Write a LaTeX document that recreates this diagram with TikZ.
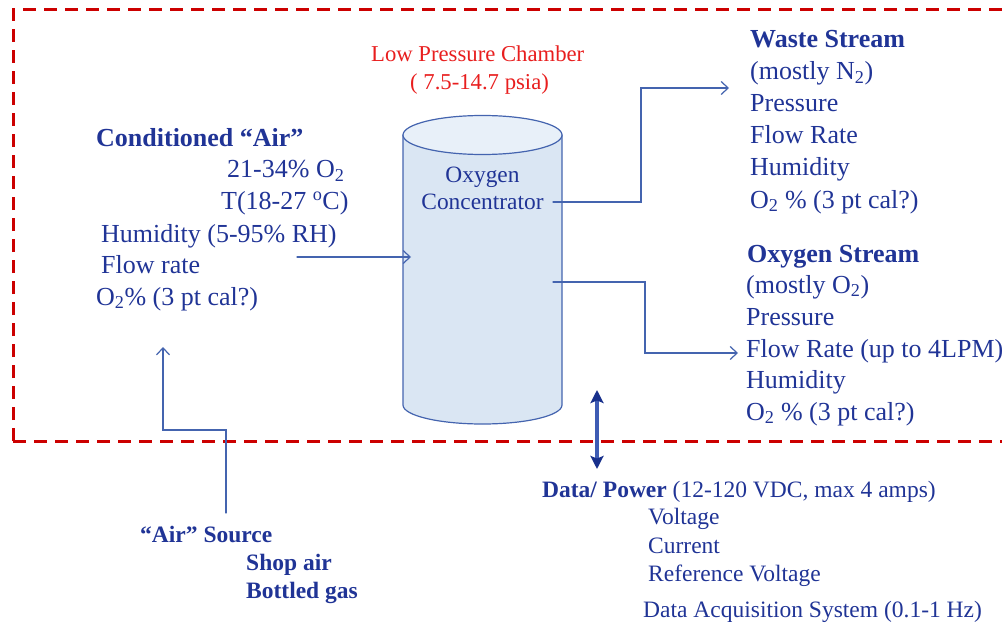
\documentclass[tikz,border=0pt]{standalone}
\usepackage{fontspec}
\setmainfont{Liberation Serif}
\usetikzlibrary{arrows.meta}

\definecolor{txtblue}{RGB}{32,52,150}
\definecolor{lnblue}{RGB}{68,100,175}
\definecolor{cylfill}{RGB}{218,230,243}
\definecolor{cyltop}{RGB}{232,240,249}
\definecolor{boxred}{RGB}{204,0,0}
\definecolor{lblred}{RGB}{232,30,30}
\definecolor{navyarr}{RGB}{24,48,140}
\definecolor{dpline}{RGB}{62,92,180}

\begin{document}
\begin{tikzpicture}[
  x=1pt, y=-1pt,
  line cap=round,
  flow/.style={-{Straight Barb[length=7pt,width=13pt]}, line width=1.2pt, draw=lnblue},
  dpow/.style={{Stealth[length=13pt,width=13pt,inset=2.5pt,color=navyarr]}-{Stealth[length=13pt,width=13pt,inset=2.5pt,color=navyarr]}, line width=3.2pt, draw=dpline},
  big/.style={font=\fontsize{26}{30}\selectfont, text=txtblue, anchor=base west, inner sep=0pt},
  bigb/.style={big, font=\fontsize{26}{30}\selectfont\bfseries},
  mid/.style={big, font=\fontsize{23.5}{28}\selectfont},
  midb/.style={big, font=\fontsize{23.5}{28}\selectfont\bfseries},
  redlbl/.style={big, font=\fontsize{22.7}{28}\selectfont, text=lblred},
]
  \useasboundingbox (0,0) rectangle (1002,623);
  % Low pressure chamber boundary
  \draw[boxred, line width=3pt, line cap=butt, dash pattern=on 13pt off 8pt]
    (13,441) -- (13,10) -- (1010,10) (13,441) -- (1010,441);
  \node[redlbl] (chamber) at (371,62) {Low Pressure Chamber};
  \node[redlbl] (chamberp) at (410,90) {( 7.5-14.7 psia)};
  % Concentrator cylinder
  \fill[cylfill] (403,135) -- (403,405) arc[start angle=180, end angle=0, x radius=79.5, y radius=19] -- (562,135) -- cycle;
  \draw[lnblue, line width=1.2pt] (403,135) -- (403,405) arc[start angle=180, end angle=0, x radius=79.5, y radius=19] -- (562,135);
  \draw[lnblue, line width=1.2pt, fill=cyltop] (482.5,135) ellipse[x radius=79.5, y radius=19.5];
  \node[mid, anchor=base, align=center, font=\fontsize{23.4}{27}\selectfont] (conc) at (482.5,209) {Oxygen\\Concentrator};
  % Conditioned air
  \node[bigb] (cond) at (96,147) {Conditioned “Air”};
  \node[big] (condox) at (227,178) {21-34\% O\textsubscript{2}};
  \node[big] (condtemp) at (221,210) {T(18-27 \textsuperscript{o}C)};
  \node[big] (condhum) at (101,242) {Humidity (5-95\% RH)};
  \node[big] (condflow) at (101,273) {Flow rate};
  \node[big] (condcal) at (96,305) {O\textsubscript{2}\% (3 pt cal?)};
  % Waste stream
  \node[bigb] (waste) at (750,48) {Waste Stream};
  \node[big] (wastemix) at (750,80) {(mostly N\textsubscript{2})};
  \node[big] (wastep) at (750,112) {Pressure};
  \node[big] (wasteflow) at (750,144) {Flow Rate};
  \node[big] (wastehum) at (750,176) {Humidity};
  \node[big] (wastecal) at (750,208) {O\textsubscript{2} \% (3 pt cal?)};
  % Oxygen stream
  \node[bigb] (oxy) at (747,262) {Oxygen Stream};
  \node[big] (oxymix) at (746,293) {(mostly O\textsubscript{2})};
  \node[big] (oxyp) at (746,325) {Pressure};
  \node[big] (oxyflow) at (746,357) {Flow Rate (up to 4LPM)};
  \node[big] (oxyhum) at (746,388) {Humidity};
  \node[big] (oxycal) at (746,420) {O\textsubscript{2} \% (3 pt cal?)};
  % Air source
  \node[midb] (src) at (140,542) {“Air” Source};
  \node[midb] (srcshop) at (246,570) {Shop air};
  \node[midb] (srcbottle) at (246,598) {Bottled gas};
  % Data / power
  \node[mid] (dpow) at (542,497) {\textbf{Data/ Power} (12-120 VDC, max 4 amps)};
  \node[mid] (dpvolt) at (648,524) {Voltage};
  \node[mid] (dpcur) at (648,553) {Current};
  \node[mid] (dpref) at (648,581) {Reference Voltage};
  \node[mid] (daq) at (643,617) {Data Acquisition System (0.1-1 Hz)};
  % Ports
  \coordinate (airin) at (297,257);
  \coordinate (concin) at (411,257);
  \coordinate (wout) at (553,202);
  \coordinate (wend) at (729,88);
  \coordinate (oout) at (553,282);
  \coordinate (oend) at (738,353);
  \coordinate (srcout) at (226,513);
  \coordinate (srcend) at (163,347);
  \coordinate (dptop) at (597,390);
  \coordinate (dpbot) at (597,469);
  % Connectors
  \draw[flow] (airin) -- (concin);
  \draw[flow] (wout) -- ++(88,0) |- (wend);
  \draw[flow] (oout) -- ++(92,0) |- (oend);
  \draw[flow] (srcout) -- ++(0,-83) -| (srcend);
  \draw[dpow] (dptop) -- (dpbot);
\end{tikzpicture}
\end{document}
